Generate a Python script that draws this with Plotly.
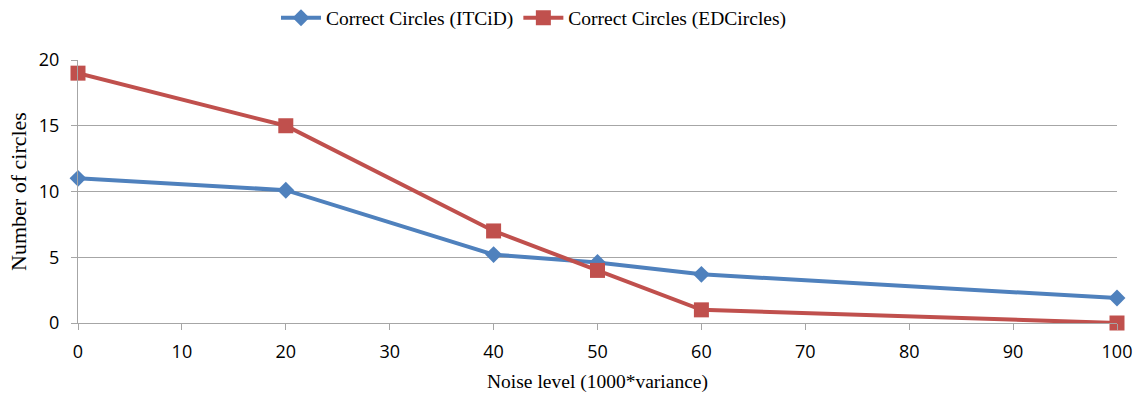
import plotly.graph_objects as go

noise = [0, 20, 40, 50, 60, 100]
itcid = [11.0, 10.1, 5.2, 4.6, 3.7, 1.9]
edcircles = [19, 15, 7, 4, 1, 0]
x_ticks = [0, 10, 20, 30, 40, 50, 60, 70, 80, 90, 100]
y_ticks = [0, 5, 10, 15, 20]

fig = go.Figure()
fig.add_trace(go.Scatter(x=noise, y=itcid, mode="lines+markers", name="Correct Circles (ITCiD)",
                         line=dict(color="#4F81BD", width=4),
                         marker=dict(symbol="diamond", size=13, color="#4F81BD")))
fig.add_trace(go.Scatter(x=noise, y=edcircles, mode="lines+markers", name="Correct Circles (EDCircles)",
                         line=dict(color="#C0504D", width=4),
                         marker=dict(symbol="square", size=15, color="#C0504D")))

fig.update_layout(
    width=1144, height=398,
    margin=dict(l=78, r=27, t=60, b=75, autoexpand=False),
    paper_bgcolor="white", plot_bgcolor="white",
    legend=dict(orientation="h", x=534 / 1144, xanchor="center", xref="container",
                y=1 - 18 / 398, yanchor="middle", yref="container",
                font=dict(family="Liberation Serif", size=19.5, color="#000"),
                itemwidth=40, tracegroupgap=0),
    xaxis=dict(range=[0, 100], tickvals=x_ticks, showgrid=False, showline=True,
               linecolor="#A6A6A6", linewidth=1, ticks="outside", tickcolor="#A6A6A6",
               ticklen=6, zeroline=False, ticklabelstandoff=6, automargin=False,
               tickfont=dict(family="Open Sans", size=18, color="#000"),
               title=dict(text="Noise level (1000*variance)",
                          font=dict(family="Liberation Serif", size=19.5, color="#000"), standoff=12)),
    yaxis=dict(range=[0, 20], tickvals=y_ticks, showgrid=True, gridcolor="#A6A6A6", gridwidth=1,
               showline=True, linecolor="#A6A6A6", linewidth=1, ticks="outside",
               tickcolor="#A6A6A6", ticklen=6, zeroline=False, ticklabelstandoff=8, automargin=False,
               tickfont=dict(family="Open Sans", size=18, color="#000"),
               title=dict(text="Number of circles",
                          font=dict(family="Liberation Serif", size=22, color="#000"), standoff=6)),
)
fig.update_traces(cliponaxis=False)
fig.write_html("out.html")
